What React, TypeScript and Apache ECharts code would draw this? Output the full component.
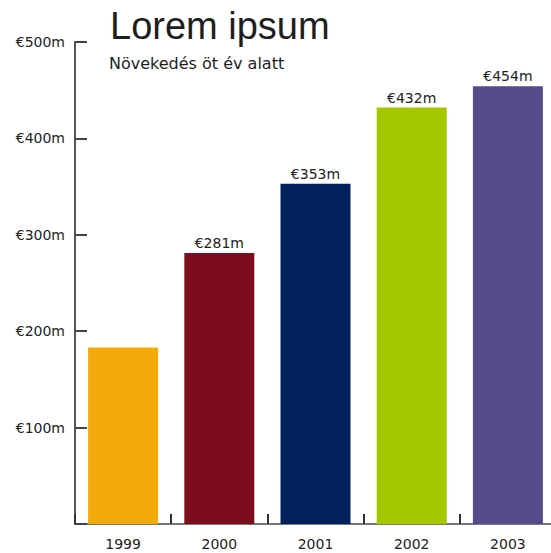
import React, { useEffect, useRef } from "react";
import * as echarts from "echarts";

const categories = ["1999", "2000", "2001", "2002", "2003"];
const values = [183, 281, 353, 432, 454];
const showLabel = [false, true, true, true, true];
const barColors = ["#F3AA0B", "#7C0D1E", "#00215C", "#A3C800", "#564A8A"];
const yTicks = { min: 0, max: 500, interval: 100 };
const titleText = "Lorem ipsum";
const subtitleText = "Növekedés öt év alatt";

export default function App() {
  const ref = useRef<HTMLDivElement>(null);
  useEffect(() => {
    if (!ref.current) return;
    const chart = echarts.init(ref.current, null, { renderer: "svg" });
    chart.setOption({
      animation: false,
      backgroundColor: "#ffffff",
      title: [
        {
          text: titleText,
          left: 110,
          top: 7,
          padding: 0,
          textStyle: { fontFamily: "Liberation Sans", fontSize: 38, fontWeight: "normal", color: "#1e1e1e" },
        },
        {
          text: subtitleText,
          left: 109,
          top: 55,
          padding: 0,
          textStyle: { fontFamily: "DejaVu Sans", fontSize: 16, fontWeight: "normal", color: "#1e1e1e" },
        },
      ],
      grid: { left: 75, right: 0, top: 42, bottom: 29, containLabel: false },
      xAxis: {
        type: "category",
        data: categories,
        axisLine: { show: true, lineStyle: { color: "#777", width: 2 } },
        axisTick: { show: true, inside: true, length: 10, alignWithLabel: false, lineStyle: { color: "#333", width: 2 } },
        axisLabel: { margin: 13, fontFamily: "DejaVu Sans", fontSize: 14, color: "#222" },
        splitLine: { show: false },
      },
      yAxis: {
        type: "value",
        min: yTicks.min,
        max: yTicks.max,
        interval: yTicks.interval,
        axisLine: { show: true, lineStyle: { color: "#555", width: 2 } },
        axisTick: { show: true, inside: true, length: 12, lineStyle: { color: "#444", width: 2 } },
        axisLabel: {
          margin: 10,
          fontFamily: "DejaVu Sans",
          fontSize: 14,
          color: "#222",
          formatter: (v: number) => (v === 0 ? "" : "€" + v + "m"),
        },
        splitLine: { show: false },
      },
      series: [
        {
          type: "bar",
          barWidth: 70,
          data: values.map((v, i) => ({
            value: v,
            itemStyle: { color: barColors[i] },
            label: { show: showLabel[i] },
          })),
          label: {
            show: true,
            position: "top",
            distance: 3,
            fontFamily: "DejaVu Sans",
            fontSize: 14,
            color: "#222",
            formatter: (p: any) => "€" + p.value + "m",
          },
        },
      ],
    });
    return () => chart.dispose();
  }, []);
  return (
    <div style={{ position: "absolute", left: 0, top: 0, width: 551, height: 553, overflow: "hidden" }}>
      <div ref={ref} style={{ width: 556, height: 553 }} />
    </div>
  );
}
